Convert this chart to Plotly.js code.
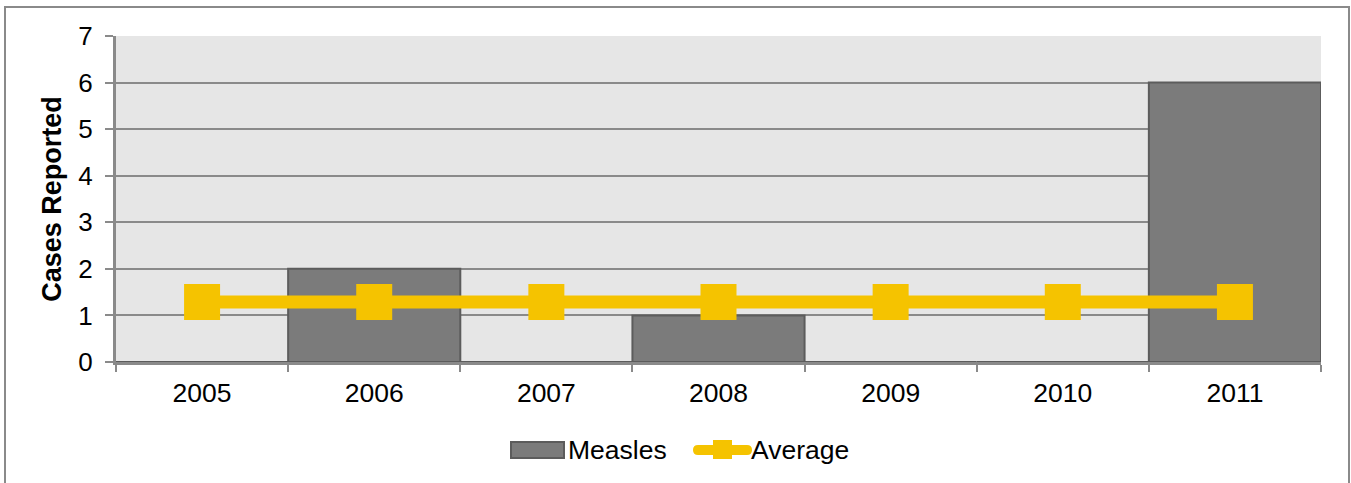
<!DOCTYPE html>
<html>
<head>
<meta charset="utf-8">
<script src="https://cdn.plot.ly/plotly-3.0.1.min.js"></script>
<style>
  html, body { margin: 0; padding: 0; background: #ffffff; }
  #wrap { position: relative; width: 1351px; height: 483px; overflow: hidden; }
  #frame { position: absolute; left: 4px; top: 6px; width: 1346px; height: 520px; border: 2px solid #8a8a8a; box-sizing: border-box; pointer-events: none; }
  #chart { position: absolute; left: 0; top: 0; width: 1351px; height: 483px; }
</style>
</head>
<body>
<div id="wrap">
  <div id="frame"></div>
  <div id="chart"></div>
</div>
<script>
const years = ['2005', '2006', '2007', '2008', '2009', '2010', '2011'];
const measles = [0, 2, 0, 1, 0, 0, 6];
const average = [1.29, 1.29, 1.29, 1.29, 1.29, 1.29, 1.29];
const yTicks = [0, 1, 2, 3, 4, 5, 6, 7];
const legendNames = ['Measles', 'Average'];

const fontFam = 'Liberation Sans, Arial, sans-serif';
const barColor = '#7b7b7b';
const barLine = '#5c5c5c';
const avgColor = '#f5c300';

// plot area in pixels (for legend placement conversions)
const W = 1351, H = 483;
const M = { l: 116, r: 30, t: 36, b: 121 };
const pw = W - M.l - M.r, ph = H - M.t - M.b;
const px = v => (v - M.l) / pw;
const py = v => (H - M.b - v) / ph;

const traces = [
  {
    type: 'bar',
    name: legendNames[0],
    x: years,
    y: measles,
    width: 1,
    showlegend: false,
    marker: { color: barColor, line: { color: barLine, width: 2 } }
  },
  {
    type: 'scatter',
    mode: 'lines+markers',
    name: legendNames[1],
    x: years,
    y: average,
    showlegend: false,
    line: { color: avgColor, width: 13 },
    marker: { symbol: 'square', size: 36, color: avgColor }
  }
];

// custom legend (Excel style)
const legY = 450;
const r = 5;
const x0 = 693, x1 = 752;
const linePath = 'M' + px(x0 + r) + ',' + py(legY - r) +
  ' L' + px(x1 - r) + ',' + py(legY - r) +
  ' Q' + px(x1) + ',' + py(legY - r) + ' ' + px(x1) + ',' + py(legY) +
  ' Q' + px(x1) + ',' + py(legY + r) + ' ' + px(x1 - r) + ',' + py(legY + r) +
  ' L' + px(x0 + r) + ',' + py(legY + r) +
  ' Q' + px(x0) + ',' + py(legY + r) + ' ' + px(x0) + ',' + py(legY) +
  ' Q' + px(x0) + ',' + py(legY - r) + ' ' + px(x0 + r) + ',' + py(legY - r) + ' Z';

const shapes = [
  { type: 'rect', xref: 'paper', yref: 'paper',
    x0: px(511), x1: px(564), y0: py(458), y1: py(442),
    fillcolor: barColor, line: { color: barLine, width: 2 } },
  { type: 'path', xref: 'paper', yref: 'paper', path: linePath,
    fillcolor: avgColor, line: { width: 0 } },
  { type: 'rect', xref: 'paper', yref: 'paper',
    x0: px(713), x1: px(732), y0: py(459), y1: py(440),
    fillcolor: avgColor, line: { width: 0 } }
];

const annotations = [
  { xref: 'paper', yref: 'paper', x: px(566), y: py(legY), xanchor: 'left', yanchor: 'middle',
    text: legendNames[0], showarrow: false, font: { family: fontFam, size: 26.5, color: '#000' } },
  { xref: 'paper', yref: 'paper', x: px(749), y: py(legY), xanchor: 'left', yanchor: 'middle',
    text: legendNames[1], showarrow: false, font: { family: fontFam, size: 26.5, color: '#000' } }
];

const layout = {
  width: W,
  height: H,
  margin: M,
  paper_bgcolor: 'rgba(0,0,0,0)',
  plot_bgcolor: '#e6e6e6',
  font: { family: fontFam, size: 26, color: '#000000' },
  showlegend: false,
  xaxis: {
    type: 'category',
    tickson: 'boundaries',
    ticks: 'outside',
    ticklen: 7,
    tickwidth: 2,
    tickcolor: '#8a8a8a',
    showgrid: false,
    showline: true,
    linecolor: '#8a8a8a',
    linewidth: 3,
    ticklabelstandoff: 5,
    tickfont: { family: fontFam, size: 26.5, color: '#000000' },
    range: [-0.5, 6.5]
  },
  yaxis: {
    range: [0, 7],
    tickvals: yTicks,
    ticktext: yTicks.map(String),
    ticks: 'outside',
    ticklen: 8,
    tickwidth: 2,
    tickcolor: '#8a8a8a',
    showgrid: true,
    gridcolor: '#8a8a8a',
    gridwidth: 2,
    zeroline: false,
    showline: true,
    linecolor: '#8a8a8a',
    linewidth: 3,
    ticklabelstandoff: 7,
    tickfont: { family: fontFam, size: 26, color: '#000000' },
    title: { text: '<b>Cases Reported</b>', font: { family: fontFam, size: 27, color: '#000000' }, standoff: 9 }
  },
  shapes: shapes,
  annotations: annotations,
  bargap: 0
};

Plotly.newPlot('chart', traces, layout, { displayModeBar: false, staticPlot: true });
</script>
</body>
</html>
